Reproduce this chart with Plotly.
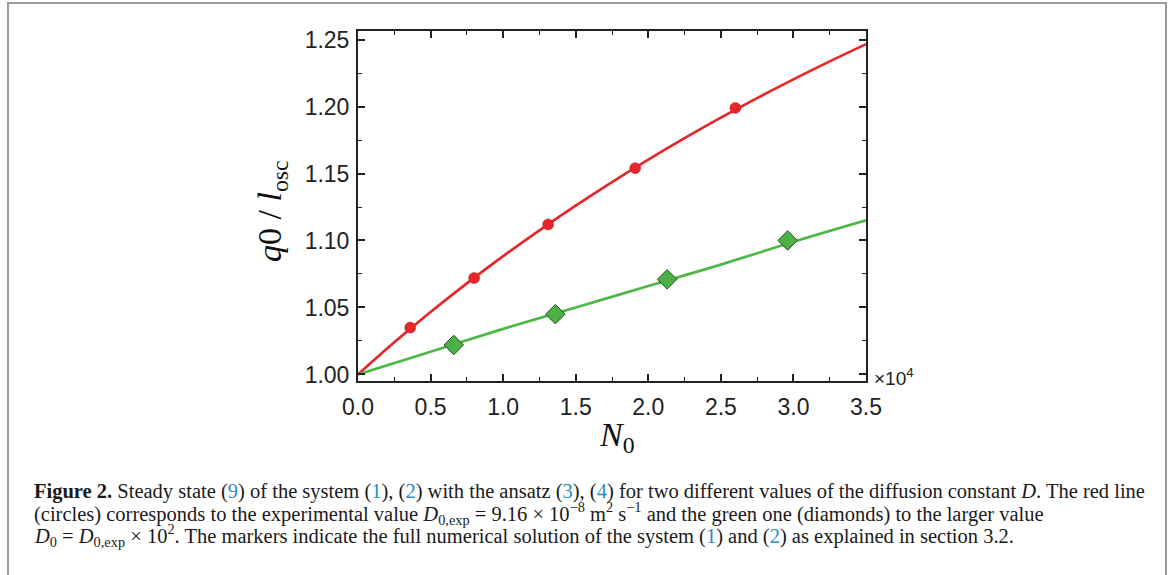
import plotly.graph_objects as go

# ---- data ----
red_curve_x = [0.0, 0.25, 0.5, 0.75, 1.0, 1.25, 1.5, 1.75, 2.0, 2.25, 2.5, 2.75, 3.0, 3.25, 3.5]
red_curve_y = [1.000, 1.0240, 1.0466, 1.0680, 1.0883, 1.1076, 1.1260, 1.1436, 1.1604, 1.1764,
               1.1917, 1.2063, 1.2203, 1.2337, 1.2466]
green_curve_x = [0.0, 0.5, 1.0, 1.5, 2.0, 2.5, 3.0, 3.5]
green_curve_y = [1.000, 1.017, 1.034, 1.050, 1.066, 1.082, 1.099, 1.115]
red_pts_x = [0.36, 0.80, 1.31, 1.91, 2.60]
red_pts_y = [1.035, 1.072, 1.112, 1.154, 1.199]
green_pts_x = [0.66, 1.36, 2.13, 2.96]
green_pts_y = [1.022, 1.045, 1.071, 1.100]
x_ticks = [0.0, 0.5, 1.0, 1.5, 2.0, 2.5, 3.0, 3.5]
y_ticks = [1.00, 1.05, 1.10, 1.15, 1.20, 1.25]

W, H = 1171, 575
L, R, T, B = 358, 866, 31, 381  # plot area in window pixels

def px(xw):
    return (xw - L) / (R - L)

def py(yw):
    return (B - yw) / (B - T)

RED = "#e5262b"
GREEN = "#4db847"
BLUE = "#2a8cc4"

fig = go.Figure()
fig.add_trace(go.Scatter(x=red_curve_x, y=red_curve_y, mode="lines",
                         line=dict(color=RED, width=2.7, shape="spline"), showlegend=False))
fig.add_trace(go.Scatter(x=green_curve_x, y=green_curve_y, mode="lines",
                         line=dict(color=GREEN, width=2.7, shape="spline"), showlegend=False))
fig.add_trace(go.Scatter(x=red_pts_x, y=red_pts_y, mode="markers",
                         marker=dict(symbol="circle", size=11, color=RED,
                                     line=dict(color="#c81e22", width=0.5)), showlegend=False))
fig.add_trace(go.Scatter(x=green_pts_x, y=green_pts_y, mode="markers",
                         marker=dict(symbol="diamond", size=15, color="#4cb144",
                                     line=dict(color="#2d4d2a", width=1)), showlegend=False))

axis_common = dict(
    showline=True, linecolor="#222", linewidth=2, mirror="ticks",
    ticks="inside", ticklen=7, tickwidth=1.5, tickcolor="#222",
    showgrid=False, zeroline=False,
    tickfont=dict(family="Liberation Sans, Arial, sans-serif", size=23, color="#222"),
)

fig.update_xaxes(range=[0, 3.5], tickvals=x_ticks, ticktext=[f"{v:.1f}" for v in x_ticks],
                 minor=dict(ticks="inside", ticklen=4, tickwidth=1.2, tickcolor="#222", dtick=0.25, tick0=0),
                 ticklabelstandoff=4, **axis_common)
fig.update_yaxes(range=[0.9951, 1.2564], tickvals=y_ticks, ticktext=[f"{v:.2f}" for v in y_ticks],
                 minor=dict(ticks="inside", ticklen=4, tickwidth=1.2, tickcolor="#222", dtick=0.025, tick0=1.0),
                 ticklabelstandoff=2, **axis_common)

annotations = [
    dict(text="<i>N</i><sub>0</sub>", x=px(617), y=py(437), xref="paper", yref="paper",
         xanchor="center", yanchor="middle",
         showarrow=False, font=dict(family="Liberation Serif, serif", size=34, color="#111")),
    dict(text="<i>q</i>0 / <i>l</i><sub>osc</sub>", x=px(272), y=py(211), xref="paper", yref="paper",
         xanchor="center", yanchor="middle",
         showarrow=False, textangle=-90, font=dict(family="Liberation Serif, serif", size=34, color="#111")),
    dict(text="×10<sup>4</sup>", x=px(872), y=py(377), xref="paper", yref="paper",
         xanchor="left", yanchor="middle",
         showarrow=False, font=dict(family="Liberation Sans, Arial, sans-serif", size=19, color="#222")),
]

def ref(n):
    return f"<span style='color:{BLUE}'>{n}</span>"

cap1 = (f"<b>Figure 2.</b> Steady state ({ref(9)}) of the system ({ref(1)}), ({ref(2)}) with the ansatz "
        f"({ref(3)}), ({ref(4)}) for two different values of the diffusion constant <i>D</i>. The red line")
cap2 = ("(circles) corresponds to the experimental value <i>D</i><sub>0,exp</sub> = 9.16 × 10<sup>−8</sup> "
        "m<sup>2</sup> s<sup>−1</sup> and the green one (diamonds) to the larger value")
cap3 = (f"<i>D</i><sub>0</sub> = <i>D</i><sub>0,exp</sub> × 10<sup>2</sup>. The markers indicate the full "
        f"numerical solution of the system ({ref(1)}) and ({ref(2)}) as explained in section 3.2.")
for txt, yc in [(cap1, 491), (cap2, 513), (cap3, 535)]:
    annotations.append(dict(text=txt, x=px(32), y=py(yc), xref="paper", yref="paper",
                            xanchor="left", yanchor="middle", showarrow=False, align="left",
                            font=dict(family="Liberation Serif, Times New Roman, serif", size=20.5,
                                      color="#1a1a1a")))

shapes = [
    dict(type="line", xref="paper", yref="paper", x0=px(8), x1=px(8), y0=py(2), y1=py(590),
         line=dict(color="#9a9a9a", width=2)),
    dict(type="line", xref="paper", yref="paper", x0=px(8), x1=px(1166), y0=py(3), y1=py(3),
         line=dict(color="#9a9a9a", width=2)),
    dict(type="line", xref="paper", yref="paper", x0=px(1166), x1=px(1166), y0=py(2), y1=py(590),
         line=dict(color="#9a9a9a", width=2)),
]

fig.update_layout(
    width=W, height=H,
    margin=dict(l=L, r=W - R, t=T, b=H - B),
    paper_bgcolor="white", plot_bgcolor="white",
    annotations=annotations, shapes=shapes,
)

fig.write_html("out.html", config={"displayModeBar": False},
               post_script="document.body.style.margin='0';document.body.style.overflow='hidden';")
